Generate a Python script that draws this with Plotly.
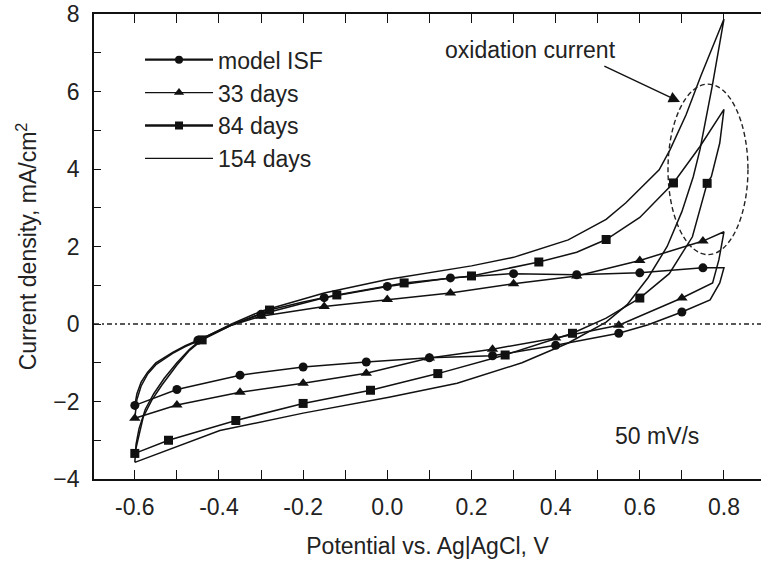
import plotly.graph_objects as go

# ---------------- data ----------------
# model ISF loop (forward -0.6 -> 0.8, then reverse back to -0.6)
isf_x = [-0.6, -0.595, -0.585, -0.57, -0.55, -0.51, -0.48, -0.45, -0.37, -0.3, -0.15, 0.0, 0.15, 0.3, 0.45, 0.6, 0.75, 0.8,
         0.79, 0.767, 0.7, 0.62, 0.55, 0.4, 0.25, 0.1, -0.05, -0.2, -0.35, -0.5, -0.6]
isf_y = [-2.1, -1.8, -1.5, -1.25, -1.0, -0.73, -0.56, -0.42, -0.02, 0.25, 0.68, 0.97, 1.19, 1.3, 1.27, 1.32, 1.45, 1.45,
         1.06, 0.62, 0.31, -0.02, -0.24, -0.55, -0.82, -0.87, -0.98, -1.11, -1.32, -1.69, -2.1]
isf_mx = [-0.6, -0.45, -0.3, -0.15, 0.0, 0.15, 0.3, 0.45, 0.6, 0.75, 0.7, 0.55, 0.4, 0.25, 0.1, -0.05, -0.2, -0.35, -0.5]
isf_my = [-2.1, -0.42, 0.25, 0.68, 0.97, 1.19, 1.3, 1.27, 1.32, 1.45, 0.31, -0.24, -0.55, -0.82, -0.87, -0.98, -1.11, -1.32, -1.69]

# 33 days
d33_x = [-0.6, -0.595, -0.585, -0.57, -0.55, -0.51, -0.48, -0.45, -0.37, -0.3, -0.15, 0.0, 0.15, 0.3, 0.45, 0.6, 0.75, 0.8,
         0.788, 0.773, 0.7, 0.55, 0.4, 0.25, 0.1, -0.05, -0.2, -0.35, -0.5, -0.6]
d33_y = [-2.43, -1.95, -1.6, -1.3, -1.05, -0.76, -0.58, -0.44, -0.03, 0.2, 0.45, 0.63, 0.8, 1.04, 1.24, 1.64, 2.14, 2.38,
         1.66, 1.06, 0.67, -0.03, -0.36, -0.65, -0.88, -1.27, -1.53, -1.76, -2.09, -2.43]
d33_mx = [-0.6, -0.45, -0.3, -0.15, 0.0, 0.15, 0.3, 0.45, 0.6, 0.75, 0.7, 0.55, 0.4, 0.25, 0.1, -0.05, -0.2, -0.35, -0.5]
d33_my = [-2.43, -0.44, 0.2, 0.45, 0.63, 0.8, 1.04, 1.24, 1.64, 2.14, 0.67, -0.03, -0.36, -0.65, -0.88, -1.27, -1.53, -1.76, -2.09]

# 84 days
d84_x = [-0.6, -0.59, -0.58, -0.56, -0.536, -0.5, -0.47, -0.44, -0.37, -0.28, -0.2, -0.12, 0.04, 0.2, 0.36, 0.45, 0.52, 0.6,
         0.68, 0.743, 0.8,
         0.79, 0.77, 0.76, 0.725, 0.67, 0.6, 0.52, 0.44, 0.28, 0.12, -0.04, -0.2, -0.36, -0.52, -0.6]
d84_y = [-3.34, -2.83, -2.4, -1.97, -1.58, -1.06, -0.68, -0.41, -0.03, 0.36, 0.57, 0.75, 1.06, 1.24, 1.6, 1.85, 2.18, 2.75,
         3.64, 4.58, 5.54,
         4.67, 3.8, 3.63, 2.25, 1.3, 0.67, 0.15, -0.24, -0.8, -1.28, -1.71, -2.05, -2.49, -3.0, -3.34]
d84_mx = [-0.6, -0.44, -0.28, -0.12, 0.04, 0.2, 0.36, 0.52, 0.68, 0.76, 0.6, 0.44, 0.28, 0.12, -0.04, -0.2, -0.36, -0.52]
d84_my = [-3.34, -0.41, 0.36, 0.75, 1.06, 1.24, 1.6, 2.18, 3.64, 3.63, 0.67, -0.24, -0.8, -1.28, -1.71, -2.05, -2.49, -3.0]

# 154 days (no markers)
d154_x = [-0.6, -0.597, -0.59, -0.575, -0.555, -0.53, -0.5, -0.47, -0.44, -0.37, -0.3, -0.15, 0.0, 0.1, 0.2, 0.3, 0.43,
          0.52, 0.567, 0.646, 0.672, 0.71, 0.745, 0.8,
          0.772, 0.743, 0.727, 0.7, 0.665, 0.62, 0.57, 0.52, 0.43, 0.32, 0.166, 0.004, -0.2, -0.398, -0.52, -0.6]
d154_y = [-3.57, -3.1, -2.7, -2.2, -1.8, -1.4, -1.0, -0.65, -0.38, 0.0, 0.33, 0.8, 1.15, 1.33, 1.5, 1.72, 2.17,
          2.7, 3.13, 3.98, 4.5, 5.4, 6.4, 7.87,
          6.13, 4.5, 3.8, 2.9, 2.0, 1.2, 0.5, 0.05, -0.49, -1.0, -1.53, -1.89, -2.3, -2.75, -3.24, -3.57]

x_ticks = [-0.6, -0.4, -0.2, 0.0, 0.2, 0.4, 0.6, 0.8]
x_ticklabels = ["-0.6", "-0.4", "-0.2", "0.0", "0.2", "0.4", "0.6", "0.8"]
y_ticks = [-4, -2, 0, 2, 4, 6, 8]

# ---------------- styling ----------------
FONT = "Liberation Sans, Arial, sans-serif"
FS = 23
TXT = "#222222"
BLK = "#111111"

series = [
    ("model ISF", isf_x, isf_y, isf_mx, isf_my, "circle", 9, 2.4),
    ("33 days", d33_x, d33_y, d33_mx, d33_my, "triangle-up", 10, 1.3),
    ("84 days", d84_x, d84_y, d84_mx, d84_my, "square", 9, 2.4),
    ("154 days", d154_x, d154_y, None, None, None, 0, 1.3),
]

fig = go.Figure()
for name, lx, ly, mx, my, sym, ms, lw in series:
    fig.add_trace(go.Scatter(x=lx, y=ly, mode="lines", line=dict(color=BLK, width=1.5),
                             showlegend=False, hoverinfo="skip"))
    if mx is not None:
        fig.add_trace(go.Scatter(x=mx, y=my, mode="markers",
                                 marker=dict(symbol=sym, size=ms, color=BLK),
                                 showlegend=False))
    # legend entry
    if sym is not None:
        fig.add_trace(go.Scatter(x=[None], y=[None], mode="lines+markers", name=name,
                                 line=dict(color=BLK, width=lw),
                                 marker=dict(symbol=sym, size=ms - 1, color=BLK)))
    else:
        fig.add_trace(go.Scatter(x=[None], y=[None], mode="lines", name=name,
                                 line=dict(color=BLK, width=lw)))

# zero reference line
fig.add_shape(type="line", xref="x domain", yref="y", x0=0, x1=1, y0=0, y1=0,
              line=dict(color="#222222", width=1.3, dash="5px,3px,2px,3px"))

# dashed ellipse marking the oxidation current
fig.add_shape(type="circle", xref="x", yref="y", x0=0.667, x1=0.857, y0=1.79, y1=6.19,
              line=dict(color="#222222", width=1.4, dash="5px,3px"))

fig.add_annotation(x=0.341, y=7.07, text="oxidation current", showarrow=False,
                   font=dict(family=FONT, size=FS, color=TXT))
fig.add_annotation(x=0.6956, y=5.73, ax=0.505, ay=6.71, axref="x", ayref="y", text=" ",
                   showarrow=True, arrowhead=2, arrowsize=1.6, arrowwidth=1.4, arrowcolor="#111111")
fig.add_annotation(x=0.641, y=-2.88, text="50 mV/s", showarrow=False,
                   font=dict(family=FONT, size=FS, color=TXT))

fig.update_layout(
    width=761, height=566,
    margin=dict(l=94, r=0, t=14, b=87),
    paper_bgcolor="white", plot_bgcolor="white",
    font=dict(family=FONT, size=FS, color=TXT),
    showlegend=True,
    legend=dict(x=0.069, y=0.948, xanchor="left", yanchor="top", bgcolor="rgba(0,0,0,0)",
                font=dict(family=FONT, size=FS, color=TXT), itemwidth=68, tracegroupgap=0),
    xaxis=dict(range=[-0.697, 0.888], tickmode="array", tickvals=x_ticks, ticktext=x_ticklabels,
               ticks="inside", ticklen=9, tickwidth=1.3, tickcolor=BLK,
               minor=dict(dtick=0.1, tick0=0, ticks="inside", ticklen=9, tickwidth=1.3, tickcolor=BLK),
               showline=True, linecolor=BLK, linewidth=1.6, mirror="ticks",
               showgrid=False, zeroline=False, ticklabelstandoff=7,
               title=dict(text="Potential vs. Ag|AgCl, V", standoff=18,
                          font=dict(family=FONT, size=FS, color=TXT)),
               tickfont=dict(family=FONT, size=FS, color=TXT)),
    yaxis=dict(range=[-4, 8], tickmode="array", tickvals=y_ticks,
               ticks="inside", ticklen=7, tickwidth=1.3, tickcolor=BLK,
               minor=dict(dtick=1, tick0=0, ticks="inside", ticklen=7, tickwidth=1.3, tickcolor=BLK),
               showline=True, linecolor=BLK, linewidth=1.6, mirror=False,
               showgrid=False, zeroline=False, ticklabelstandoff=8,
               title=dict(text="Current density, mA/cm<sup>2</sup>", standoff=10,
                          font=dict(family=FONT, size=FS, color=TXT)),
               tickfont=dict(family=FONT, size=FS, color=TXT)),
    yaxis2=dict(range=[-4, 8], overlaying="y", side="right", anchor="x", showticklabels=False,
                ticks="inside", ticklen=6, tickwidth=1.3, tickcolor=BLK, dtick=1, tick0=0,
                showline=False, showgrid=False, zeroline=False),
)

fig.write_html("out.html", config={"displayModeBar": False},
               post_script="document.body.style.margin='0px';")
